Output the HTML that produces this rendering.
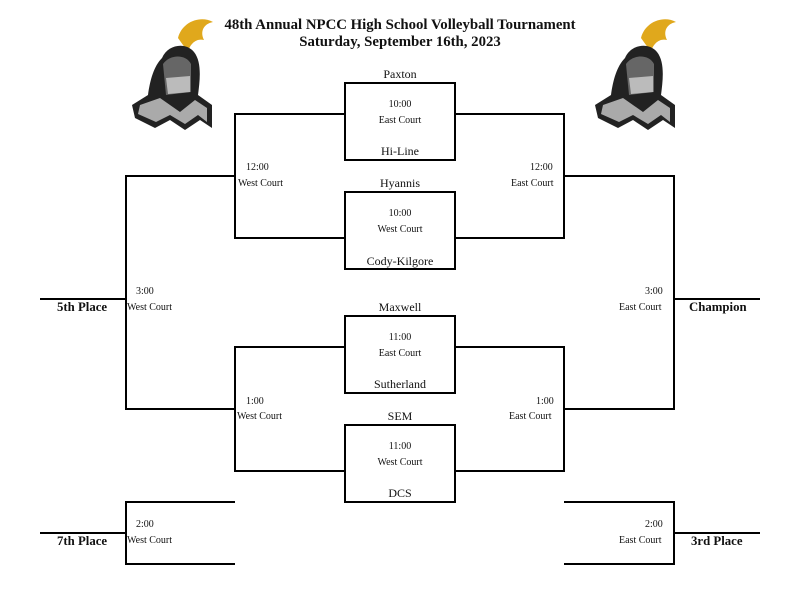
<!DOCTYPE html>
<html><head><style>
body{margin:0;background:#fff;width:800px;height:612px;overflow:hidden;position:relative;font-family:"Liberation Serif",serif;color:#111}
.t{position:absolute;white-space:nowrap}
.s{font-size:10px}
.n{font-size:12px}
.b{font-weight:bold;font-size:12.8px}
.c{transform:translateX(-50%)}
</style></head><body>
<svg width="800" height="612" style="position:absolute;left:0;top:0">
<g stroke="#000" stroke-width="2" fill="none">
<rect x="345" y="83" width="110" height="77"/>
<rect x="345" y="192" width="110" height="77"/>
<rect x="345" y="316" width="110" height="77"/>
<rect x="345" y="425" width="110" height="77"/>
<path d="M345 114H235V238H345M345 347H235V471H345"/>
<path d="M235 176H126V409H235M40 299H126"/>
<path d="M235 502H126V564H235M40 533H126"/>
<path d="M455 114H564V238H455M455 347H564V471H455"/>
<path d="M564 176H674V409H564M760 299H674"/>
<path d="M564 502H674V564H564M760 533H674"/>
</g>
<g id="k">
<path d="M178 38 C182 22 200 15 213 22 C203 24 200 32 204 40 C196 38 190 44 188 52Z" fill="#e0a81c"/>
<path d="M162 58 C168 44 186 42 194 52 C202 62 200 80 198 95 L212 105 L212 128 L200 120 L185 130 L170 120 L155 128 L135 118 L132 105 L148 95 C150 80 154 66 162 58Z" fill="#222"/>
<path d="M163 64 C170 54 186 54 191 64 L191 92 L166 95 Z" fill="#666"/>
<path d="M166 78 L190 76 L190 92 L168 94Z" fill="#bbb"/>
<path d="M140 105 L160 98 L180 112 L195 100 L207 108 L207 122 L198 115 L185 124 L170 115 L156 122 L138 114Z" fill="#aaa"/>
</g>
<use href="#k" transform="translate(463,0)"/>
</svg>
<div class="t b c" style="left:400px;top:17px;font-size:14.8px">48th Annual NPCC High School Volleyball Tournament</div>
<div class="t b c" style="left:400px;top:34px;font-size:14.8px">Saturday, September 16th, 2023</div>

<div class="t n c" style="left:400px;top:67px">Paxton</div>
<div class="t s c" style="left:400px;top:99px">10:00</div>
<div class="t s c" style="left:400px;top:115px">East Court</div>
<div class="t n c" style="left:400px;top:144px">Hi-Line</div>
<div class="t n c" style="left:400px;top:176px">Hyannis</div>
<div class="t s c" style="left:400px;top:208px">10:00</div>
<div class="t s c" style="left:400px;top:224px">West Court</div>
<div class="t n c" style="left:400px;top:254px">Cody-Kilgore</div>
<div class="t n c" style="left:400px;top:300px">Maxwell</div>
<div class="t s c" style="left:400px;top:332px">11:00</div>
<div class="t s c" style="left:400px;top:348px">East Court</div>
<div class="t n c" style="left:400px;top:377px">Sutherland</div>
<div class="t n c" style="left:400px;top:409px">SEM</div>
<div class="t s c" style="left:400px;top:441px">11:00</div>
<div class="t s c" style="left:400px;top:457px">West Court</div>
<div class="t n c" style="left:400px;top:486px">DCS</div>

<div class="t s" style="left:246px;top:162px">12:00</div>
<div class="t s" style="left:238px;top:178px">West Court</div>
<div class="t s" style="left:530px;top:162px">12:00</div>
<div class="t s" style="left:511px;top:178px">East Court</div>
<div class="t s" style="left:246px;top:396px">1:00</div>
<div class="t s" style="left:237px;top:411px">West Court</div>
<div class="t s" style="left:536px;top:396px">1:00</div>
<div class="t s" style="left:509px;top:411px">East Court</div>

<div class="t s" style="left:136px;top:286px">3:00</div>
<div class="t s" style="left:127px;top:302px">West Court</div>
<div class="t s" style="left:645px;top:286px">3:00</div>
<div class="t s" style="left:619px;top:302px">East Court</div>
<div class="t s" style="left:136px;top:519px">2:00</div>
<div class="t s" style="left:127px;top:535px">West Court</div>
<div class="t s" style="left:645px;top:519px">2:00</div>
<div class="t s" style="left:619px;top:535px">East Court</div>

<div class="t b" style="left:57px;top:300px">5th Place</div>
<div class="t b" style="left:57px;top:534px">7th Place</div>
<div class="t b" style="left:689px;top:300px">Champion</div>
<div class="t b" style="left:691px;top:534px">3rd Place</div>
</body></html>
